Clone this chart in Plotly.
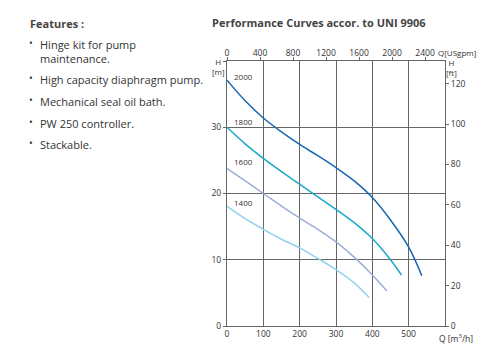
import plotly.graph_objects as go

# Data (Q in m3/h, H in m)
q_2000 = [0, 50, 100, 150, 200, 250, 300, 350, 400, 450, 500, 536]
h_2000 = [37.1, 34.0, 31.4, 29.3, 27.4, 25.7, 23.9, 21.9, 19.4, 16.0, 11.9, 7.6]
q_1800 = [0, 50, 100, 150, 200, 250, 300, 350, 400, 450, 480]
h_1800 = [30.0, 27.5, 25.3, 23.3, 21.4, 19.5, 17.6, 15.6, 13.2, 10.0, 7.7]
q_1600 = [0, 50, 100, 150, 200, 250, 300, 350, 400, 440]
h_1600 = [23.8, 21.9, 20.0, 18.1, 16.3, 14.6, 12.7, 10.4, 7.7, 5.3]
q_1400 = [0, 50, 100, 150, 200, 250, 300, 350, 391]
h_1400 = [18.05, 16.2, 14.6, 13.1, 11.8, 10.2, 8.5, 6.5, 4.3]

rpm_labels = ["2000", "1800", "1600", "1400"]
label_h = [37.6, 30.8, 24.8, 18.7]
colors = ["#1766b0", "#19a8c9", "#9eaedb", "#8fd3f1"]

features = ["Hinge kit for pump<br>maintenance.", "High capacity diaphragm pump.",
            "Mechanical seal oil bath.", "PW 250 controller.", "Stackable."]
feature_y = [43, 78, 100, 122, 143]

x_ticks = [0, 100, 200, 300, 400, 500]
x2_ticks = [0, 400, 800, 1200, 1600, 2000, 2400]
y_ticks = [0, 10, 20, 30, 40]
y2_ticks = [0, 20, 40, 60, 80, 100, 120]

QMAX, HMAX = 600, 40
M3H_TO_USGPM = 4.4029
M_TO_FT = 3.28084

W, H = 479, 352
L, R, T, B = 226.5, 34, 61, 26
PW, PH = W - L - R, H - T - B
GRID = "#666666"
TXT = "#333333"
FONT = "Open Sans"


def px(x):
    return (x - L) / PW


def py(y):
    return (H - B - y) / PH


fig = go.Figure()
for q, h, c in zip([q_2000, q_1800, q_1600, q_1400], [h_2000, h_1800, h_1600, h_1400], colors):
    fig.add_trace(go.Scatter(x=q, y=h, mode="lines",
                             line=dict(color=c, width=1.5, shape="spline", smoothing=1.0),
                             showlegend=False, hoverinfo="skip"))
# invisible trace to activate secondary axes
fig.add_trace(go.Scatter(x=[0], y=[0], xaxis="x2", yaxis="y2", mode="markers",
                         marker=dict(opacity=0), showlegend=False, hoverinfo="skip"))

tickfont = dict(family=FONT, size=8.5, color=TXT)
fig.update_layout(
    width=W, height=H, margin=dict(l=L, r=R, t=T, b=B),
    plot_bgcolor="white", paper_bgcolor="white",
    xaxis=dict(range=[0, QMAX], tickvals=x_ticks, showgrid=True, gridcolor=GRID, gridwidth=1.3,
               showline=True, linecolor=GRID, linewidth=1.3, zeroline=False, ticks="",
               tickfont=tickfont),
    yaxis=dict(range=[0, HMAX], tickvals=y_ticks, ticktext=["0", "10", "20", "30", ""], showgrid=True,
               gridcolor=GRID, gridwidth=1.3, showline=True, linecolor=GRID, linewidth=1.3,
               zeroline=False, ticks="outside", ticklen=3, tickcolor=GRID, tickfont=tickfont),
    xaxis2=dict(range=[0, QMAX * M3H_TO_USGPM], tickvals=x2_ticks, overlaying="x", side="top",
                showgrid=False, showline=True, linecolor=GRID, linewidth=1.3, zeroline=False,
                ticks="outside", ticklen=3, tickcolor=GRID, tickfont=tickfont,
                ticklabelstandoff=-3),
    yaxis2=dict(range=[0, HMAX * M_TO_FT], tickvals=y2_ticks, overlaying="y", side="right",
                showgrid=False, showline=True, linecolor=GRID, linewidth=1.3, zeroline=False,
                ticks="outside", ticklen=3, tickcolor=GRID, tickfont=tickfont),
)

ann = []
for lab, hy in zip(rpm_labels, label_h):
    ann.append(dict(x=15, y=hy, xref="x", yref="y", text=lab, showarrow=False, xanchor="left",
                    yanchor="middle", font=dict(family=FONT, size=8, color=TXT)))
items = [
    (218, 66, "H<br>[m]", 8, "center"), (452, 67, "H<br>[ft]", 8, "center"),
    (478, 52, "Q[USgpm]", 8, "right"), (456, 338, "Q [m<sup>3</sup>/h]", 8.5, "center"),
]
for x, y, t, s, a in items:
    ann.append(dict(x=px(x), y=py(y), xref="paper", yref="paper", text=t, showarrow=False,
                    xanchor=a, yanchor="middle", font=dict(family=FONT, size=s, color=TXT)))
ann.append(dict(x=px(209), y=py(22), xref="paper", yref="paper", xanchor="left", yanchor="middle",
                text="<b>Performance Curves accor. to UNI 9906</b>", showarrow=False,
                font=dict(family=FONT, size=11, color="#444444")))
ann.append(dict(x=px(27), y=py(23), xref="paper", yref="paper", xanchor="left", yanchor="middle",
                text="<b>Features :</b>", showarrow=False, font=dict(family=FONT, size=11, color="#444444")))
for t, y in zip(features, feature_y):
    ann.append(dict(x=px(37), y=py(y - 8), xref="paper", yref="paper", xanchor="left", yanchor="top",
                    align="left", text=t, showarrow=False, font=dict(family=FONT, size=11, color=TXT)))
    ann.append(dict(x=px(30), y=py(y), xref="paper", yref="paper", xanchor="center", yanchor="middle",
                    text="•", showarrow=False, font=dict(family=FONT, size=10, color=TXT)))
fig.update_layout(annotations=ann)
fig.write_html("out.html")
